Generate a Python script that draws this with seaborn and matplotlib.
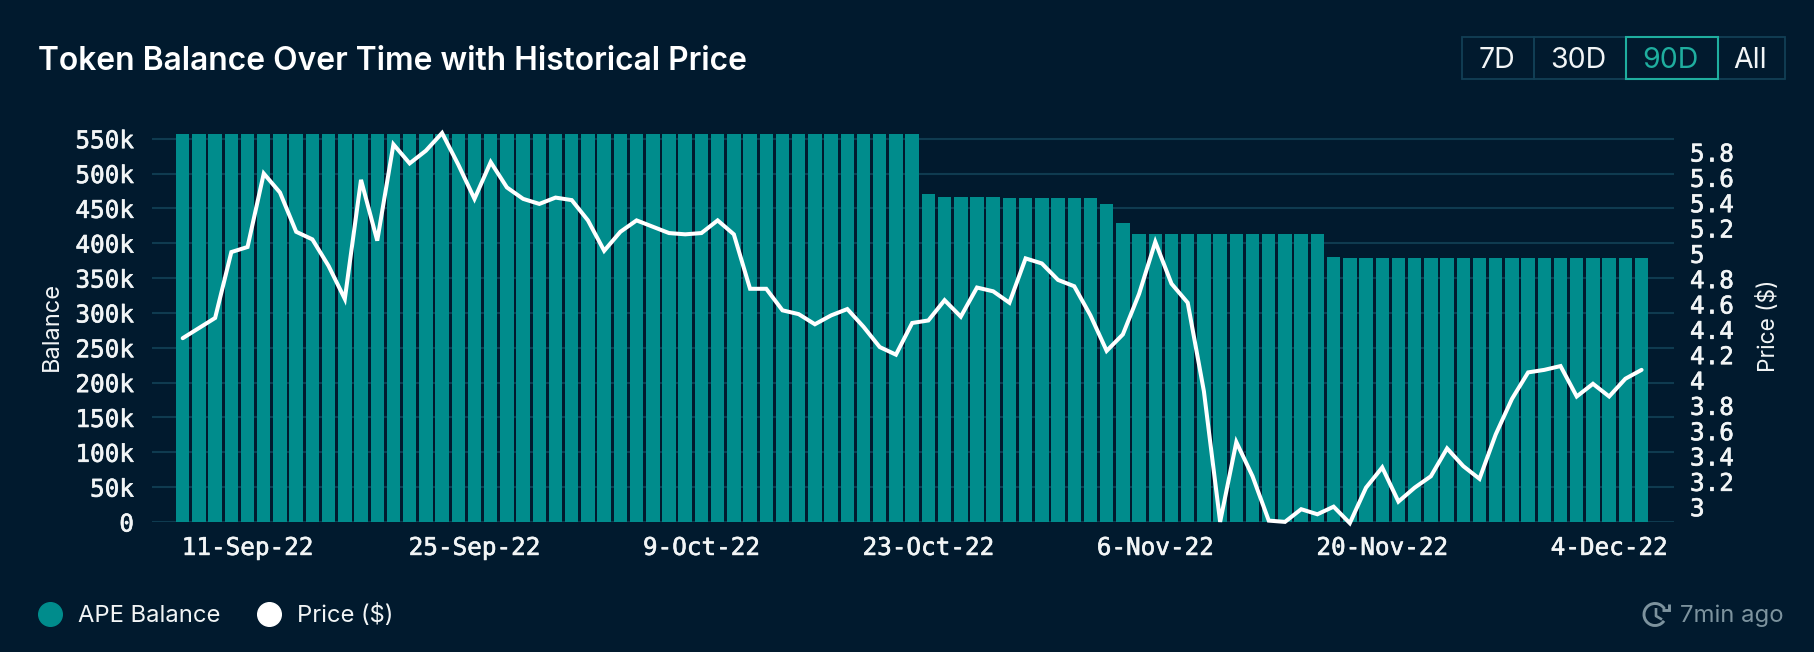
import numpy as np
import pandas as pd
import matplotlib
matplotlib.use("Agg")
import matplotlib.pyplot as plt
import matplotlib.patheffects as pe
from matplotlib.lines import Line2D
from matplotlib.patches import Rectangle, Arc
from matplotlib.ticker import FuncFormatter
import seaborn as sns

dates = pd.date_range("2022-09-07", "2022-12-06").strftime("%-d-%b-%y").tolist()

balance = [
    556200, 556200, 556200, 556200, 556200, 556200, 556200, 556200, 556200, 556200,
    556200, 556200, 556200, 556200, 556200, 556200, 556200, 556200, 556200, 556200,
    556200, 556200, 556200, 556200, 556200, 556200, 556200, 556200, 556200, 556200,
    556200, 556200, 556200, 556200, 556200, 556200, 556200, 556200, 556200, 556200,
    556200, 556200, 556200, 556200, 556200, 556200, 470600, 465800, 465800, 465800,
    465800, 464400, 464400, 464400, 464400, 464400, 464400, 456200, 428500, 412700,
    412700, 412700, 412700, 412700, 412700, 412700, 412700, 412700, 412700, 412700,
    412700, 379700, 378300, 378300, 378300, 378300, 378300, 378300, 378300, 378300,
    378300, 378300, 378300, 378300, 378300, 378300, 378300, 378300, 378300, 378300,
    378300,
]
price = [
    4.33, 4.41, 4.49, 5.01, 5.05, 5.63, 5.48, 5.17, 5.11, 4.90,
    4.64, 5.58, 5.10, 5.86, 5.71, 5.81, 5.95, 5.70, 5.43, 5.72,
    5.52, 5.43, 5.39, 5.44, 5.42, 5.26, 5.02, 5.17, 5.26, 5.21,
    5.16, 5.15, 5.16, 5.26, 5.15, 4.72, 4.72, 4.55, 4.52, 4.44,
    4.51, 4.56, 4.42, 4.26, 4.20, 4.45, 4.47, 4.63, 4.50, 4.73,
    4.70, 4.61, 4.96, 4.92, 4.79, 4.74, 4.51, 4.23, 4.36, 4.68,
    5.09, 4.76, 4.61, 3.91, 2.88, 3.51, 3.24, 2.89, 2.88, 2.98,
    2.94, 3.00, 2.87, 3.15, 3.31, 3.04, 3.15, 3.24, 3.46, 3.32,
    3.22, 3.57, 3.85, 4.06, 4.08, 4.11, 3.87, 3.97, 3.87, 4.01,
    4.08,
]
balance_ticks = [0, 50000, 100000, 150000, 200000, 250000, 300000, 350000, 400000, 450000, 500000, 550000]
price_ticks = [3, 3.2, 3.4, 3.6, 3.8, 4, 4.2, 4.4, 4.6, 4.8, 5, 5.2, 5.4, 5.6, 5.8]
date_ticks = [4, 18, 32, 46, 60, 74, 88]
ranges = ["7D", "30D", "90D", "All"]

BG = "#011a2e"
TEAL = "#008c8c"
GRID = "#0f3b50"
TEXT = "#f2f5f6"
W, H = 1814, 652

sns.set_style("dark", {"axes.facecolor": BG, "figure.facecolor": BG})
plt.rcParams["font.family"] = ["Inter", "DejaVu Sans"]
mono = "DejaVu Sans Mono"
# plex mono in the original is a bit heavier than dejavu regular
heavier = [pe.withStroke(linewidth=0.45, foreground=TEXT)]

fig = plt.figure(figsize=(W / 100, H / 100), dpi=100, facecolor=BG)
ax = fig.add_axes([152 / W, 1 - 522 / H, (1674 - 152) / W, (522 - 134) / H])

df = pd.DataFrame({"date": dates, "balance": balance, "price": price})
df["day"] = df.index
sns.barplot(data=df, x="date", y="balance", color=TEAL, saturation=1, width=0.83, ax=ax,
            zorder=2, linewidth=0, edgecolor="none")
ax.set_xlim(-1.895, 92.0)
ax.set_ylim(0, 556700)
ax.set_axisbelow(True)
ax.grid(axis="y", color=GRID, lw=1.5)
ax.grid(axis="x", visible=False)
ax.set_yticks(balance_ticks)
ax.yaxis.set_major_formatter(FuncFormatter(lambda v, _: "0" if v == 0 else f"{v / 1000:.0f}k"))
ax.set_xticks(date_ticks)
ax.set_xticklabels([dates[i] for i in date_ticks])
ax.tick_params(axis="y", length=0, pad=13, labelsize=17.5, labelcolor=TEXT)
ax.tick_params(axis="x", length=0, pad=10, labelsize=17.5, labelcolor=TEXT)
for lab in ax.get_xticklabels() + ax.get_yticklabels():
    lab.set_family(mono)
    lab.set_path_effects(heavier)
ax.set_xlabel("")
ax.set_ylabel("Balance", color=TEXT, fontsize=17, va="center")
ax.yaxis.set_label_coords((52 - 152) / 1522, 0.505)
sns.despine(ax=ax, left=True, bottom=True)

ax2 = ax.twinx()
sns.lineplot(data=df, x="day", y="price", color="white", lw=2.9, ax=ax2, errorbar=None,
             solid_joinstyle="miter", clip_on=False, zorder=5)
ax2.set_xlim(-1.895, 92.0)
ax2.set_ylim(2.879, 5.942)
ax2.set_yticks(price_ticks)
ax2.yaxis.set_major_formatter(FuncFormatter(lambda v, _: f"{v:g}"))
ax2.tick_params(axis="y", length=0, pad=11.5, labelsize=17.5, labelcolor=TEXT)
for lab in ax2.get_yticklabels():
    lab.set_family(mono)
    lab.set_path_effects(heavier)
ax2.grid(False)
ax2.set_xlabel("")
ax2.set_ylabel("Price ($)", color=TEXT, fontsize=16.4, va="center")
ax2.yaxis.set_label_coords((1768.5 - 152) / 1522, 0.505)
sns.despine(ax=ax2, left=True, right=True, bottom=True)

# legend under the chart
handles = [
    Line2D([], [], ls="", marker="o", ms=17, mfc=TEAL, mec=TEAL, label="APE Balance"),
    Line2D([], [], ls="", marker="o", ms=17, mfc="white", mec="white", label="Price ($)"),
]
fig.legend(handles=handles, loc="center left", bbox_to_anchor=(38.5 / W, 1 - 615.5 / H), ncol=2,
           frameon=False, fontsize=17.1, labelcolor=TEXT, handlelength=1.0, handletextpad=0.68,
           columnspacing=1.52, borderpad=0, borderaxespad=0)

# page furniture, drawn in pixel coordinates
top = fig.add_axes([0, 0, 1, 1], facecolor="none")
top.set_xlim(0, W)
top.set_ylim(H, 0)
top.axis("off")
top.text(38, 61, "Token Balance Over Time with Historical Price", color="white", fontsize=22.9,
         fontweight="semibold", va="center", ha="left")

edges = [1462, 1534, 1625.5, 1717.5, 1785]
for i, name in enumerate(ranges):
    if name != "90D":
        top.add_patch(Rectangle((edges[i], 37), edges[i + 1] - edges[i], 42, fill=False, ec="#123f55", lw=1.3))
for i, name in enumerate(ranges):
    active = name == "90D"
    if active:
        top.add_patch(Rectangle((edges[i], 37), edges[i + 1] - edges[i], 42, fill=False, ec="#1fae9f", lw=1.5, zorder=3))
    top.text((edges[i] + edges[i + 1]) / 2 - 1, 61, name, color="#1fae9f" if active else TEXT,
             fontsize=20.5, ha="center", va="center")

GREY = "#7d939e"
top.add_patch(Arc((1655, 614.5), 22, 22, angle=0, theta1=35, theta2=330, color=GREY, lw=2.1))
top.plot([1656, 1656, 1662], [608, 616, 619.5], color=GREY, lw=1.9, solid_capstyle="butt")
top.plot([1662, 1668.5, 1668.5], [610, 610, 604], color=GREY, lw=2.1, solid_joinstyle="miter", solid_capstyle="butt")
top.text(1679.5, 615.5, "7min ago", color=GREY, fontsize=17.2, ha="left", va="center")

fig.savefig("out.png", dpi=100, facecolor=BG)
